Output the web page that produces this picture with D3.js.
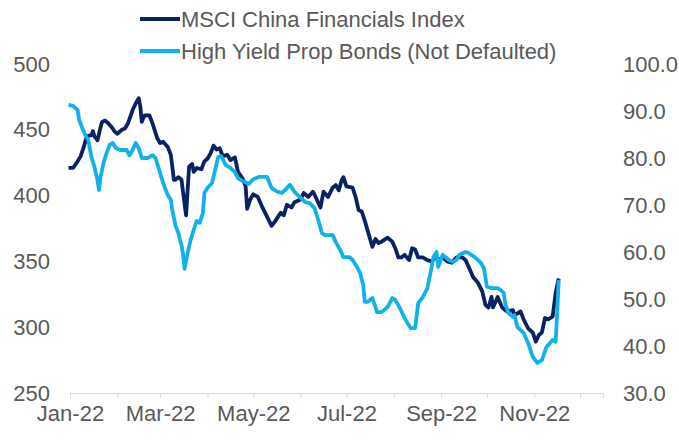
<!DOCTYPE html>
<html>
<head>
<meta charset="utf-8">
<script src="https://cdn.jsdelivr.net/npm/d3@7"></script>
<style>
  html, body { margin: 0; padding: 0; background: #ffffff; }
  svg { display: block; }
  text { font-family: "Liberation Sans", Arial, sans-serif; }
</style>
</head>
<body>
<svg id="chart" width="679" height="440"></svg>
<script>
// MSCI China Financials Index (left axis)
const msciSeries = [
  ["2021-12-31",421],["2022-01-03",421],["2022-01-06",426],["2022-01-08",430],["2022-01-10",437],
  ["2022-01-12",445],["2022-01-15",446],["2022-01-16",449],["2022-01-17",445],["2022-01-19",442],
  ["2022-01-21",452],["2022-01-22",456],["2022-01-24",457],["2022-01-26",455],["2022-01-29",451],
  ["2022-01-30",449],["2022-02-01",447],["2022-02-04",450],["2022-02-06",451],["2022-02-08",455],
  ["2022-02-11",465],["2022-02-13",470],["2022-02-15",474],["2022-02-16",468],["2022-02-17",456],
  ["2022-02-18",459],["2022-02-19",461],["2022-02-22",461],["2022-02-24",455],["2022-02-27",444],
  ["2022-03-01",440],["2022-03-03",441],["2022-03-06",437],["2022-03-08",431],["2022-03-09",422],
  ["2022-03-10",412],["2022-03-11",412],["2022-03-13",414],["2022-03-15",412],["2022-03-16",403],
  ["2022-03-18",385],["2022-03-19",404],["2022-03-20",422],["2022-03-22",424],["2022-03-23",418],
  ["2022-03-25",421],["2022-03-28",420],["2022-03-30",426],["2022-04-01",428],["2022-04-03",432],
  ["2022-04-05",438],["2022-04-07",435],["2022-04-09",436],["2022-04-11",430],["2022-04-14",431],
  ["2022-04-16",427],["2022-04-19",429],["2022-04-21",418],["2022-04-24",413],["2022-04-26",407],
  ["2022-04-27",390],["2022-04-29",397],["2022-05-01",401],["2022-05-04",399],["2022-05-07",391],
  ["2022-05-10",384],["2022-05-13",377],["2022-05-15",380],["2022-05-19",387],["2022-05-21",385],
  ["2022-05-23",393],["2022-05-26",391],["2022-05-28",395],["2022-06-01",397],["2022-06-03",402],
  ["2022-06-06",399],["2022-06-09",403],["2022-06-10",401],["2022-06-14",391],["2022-06-16",403],
  ["2022-06-19",399],["2022-06-22",406],["2022-06-24",408],["2022-06-26",404],["2022-06-28",412],
  ["2022-06-29",414],["2022-07-01",407],["2022-07-05",406],["2022-07-07",399],["2022-07-09",389],
  ["2022-07-11",388],["2022-07-13",381],["2022-07-15",373],["2022-07-18",361],["2022-07-20",367],
  ["2022-07-22",364],["2022-07-24",365],["2022-07-28",368],["2022-07-31",365],["2022-08-02",360],
  ["2022-08-04",353],["2022-08-06",353],["2022-08-08",355],["2022-08-11",351],["2022-08-13",360],
  ["2022-08-15",359],["2022-08-17",353],["2022-08-20",353],["2022-08-23",351],["2022-08-26",350],
  ["2022-08-28",353],["2022-08-30",351],["2022-09-02",353],["2022-09-05",350],["2022-09-08",349],
  ["2022-09-11",353],["2022-09-15",353],["2022-09-17",351],["2022-09-19",346],["2022-09-22",338],
  ["2022-09-25",334],["2022-09-28",327],["2022-09-30",317],["2022-10-02",315],["2022-10-04",323],
  ["2022-10-05",315],["2022-10-08",323],["2022-10-11",315],["2022-10-14",312],["2022-10-18",313],
  ["2022-10-19",309],["2022-10-23",312],["2022-10-25",306],["2022-10-28",299],["2022-10-31",296],
  ["2022-11-02",289],["2022-11-04",294],["2022-11-06",296],["2022-11-08",307],["2022-11-10",306],
  ["2022-11-13",308],["2022-11-15",326],["2022-11-17",337]
];

// High Yield Prop Bonds, not defaulted (right axis)
const bondSeries = [
  ["2021-12-31",91.3],["2022-01-03",91.1],["2022-01-06",90.2],["2022-01-07",88.1],["2022-01-09",86.4],
  ["2022-01-11",84.9],["2022-01-13",83.8],["2022-01-15",80.2],["2022-01-17",78.1],["2022-01-19",75.3],
  ["2022-01-20",73.2],["2022-01-21",76.0],["2022-01-23",79.0],["2022-01-25",81.1],["2022-01-27",82.8],
  ["2022-01-29",83.2],["2022-01-31",82.1],["2022-02-03",81.7],["2022-02-07",81.7],["2022-02-09",80.6],
  ["2022-02-11",81.7],["2022-02-13",83.2],["2022-02-15",82.1],["2022-02-17",80.0],["2022-02-21",80.0],
  ["2022-02-24",80.6],["2022-02-26",80.0],["2022-02-28",77.9],["2022-03-02",75.7],["2022-03-04",73.8],
  ["2022-03-06",72.1],["2022-03-08",71.1],["2022-03-09",68.9],["2022-03-11",65.7],["2022-03-13",64.0],
  ["2022-03-14",62.6],["2022-03-15",61.5],["2022-03-16",59.6],["2022-03-17",56.4],["2022-03-19",59.8],
  ["2022-03-21",62.6],["2022-03-23",64.7],["2022-03-25",66.6],["2022-03-27",66.2],["2022-03-29",68.3],
  ["2022-03-30",72.6],["2022-04-01",73.6],["2022-04-04",74.7],["2022-04-06",77.4],["2022-04-08",80.2],
  ["2022-04-10",80.4],["2022-04-13",78.5],["2022-04-16",77.9],["2022-04-19",77.0],["2022-04-21",75.7],
  ["2022-04-24",75.1],["2022-04-28",74.5],["2022-05-01",75.5],["2022-05-05",76.0],["2022-05-10",76.0],
  ["2022-05-13",73.6],["2022-05-17",72.8],["2022-05-20",72.6],["2022-05-23",73.6],["2022-05-25",74.3],
  ["2022-05-28",72.8],["2022-06-01",71.5],["2022-06-04",70.6],["2022-06-07",70.4],["2022-06-10",69.4],
  ["2022-06-12",67.4],["2022-06-15",64.0],["2022-06-17",63.6],["2022-06-22",63.6],["2022-06-24",62.1],
  ["2022-06-27",60.4],["2022-06-29",58.9],["2022-07-03",58.9],["2022-07-05",58.3],["2022-07-08",56.8],
  ["2022-07-10",55.5],["2022-07-12",53.0],["2022-07-13",49.4],["2022-07-15",49.4],["2022-07-18",50.2],
  ["2022-07-20",48.3],["2022-07-21",47.2],["2022-07-24",47.2],["2022-07-28",48.3],["2022-07-31",50.2],
  ["2022-08-02",49.8],["2022-08-05",48.1],["2022-08-08",46.0],["2022-08-12",43.8],["2022-08-15",43.8],
  ["2022-08-17",49.1],["2022-08-20",50.4],["2022-08-23",52.3],["2022-08-25",55.5],["2022-08-27",58.9],
  ["2022-08-29",60.0],["2022-08-30",56.8],["2022-09-02",59.4],["2022-09-04",58.9],["2022-09-06",58.3],
  ["2022-09-09",57.9],["2022-09-11",58.3],["2022-09-13",59.4],["2022-09-17",60.0],["2022-09-19",59.8],
  ["2022-09-23",58.9],["2022-09-27",57.7],["2022-09-29",56.6],["2022-10-01",52.6],["2022-10-04",52.3],
  ["2022-10-08",52.3],["2022-10-10",51.9],["2022-10-12",51.3],["2022-10-13",49.1],["2022-10-15",47.0],
  ["2022-10-18",46.2],["2022-10-19",46.6],["2022-10-21",44.0],["2022-10-25",42.8],["2022-10-28",40.6],
  ["2022-10-31",37.7],["2022-11-03",36.4],["2022-11-06",37.0],["2022-11-09",39.8],["2022-11-13",41.3],
  ["2022-11-15",40.9],["2022-11-16",47.0],["2022-11-17",54.0]
];

const seriesNames = ["MSCI China Financials Index", "High Yield Prop Bonds (Not Defaulted)"];
const seriesColors = ["#0a2263", "#12b1ec"];
const leftTicks = [250, 300, 350, 400, 450, 500];
const rightTicks = [30, 40, 50, 60, 70, 80, 90, 100];
const labelMonths = ["Jan-22", "Mar-22", "May-22", "Jul-22", "Sep-22", "Nov-22"];

const svg = d3.select("#chart");
const parse = d3.timeParse("%Y-%m-%d");
const fmtMonth = d3.timeFormat("%b-%y");
const textColor = "#595959";

const plot = { left: 70, right: 603, top: 64, bottom: 393 };

const x = d3.scaleTime()
  .domain([new Date(2022, 0, 1), new Date(2022, 11, 16)])
  .range([plot.left, plot.right]);
const yLeft = d3.scaleLinear().domain([250, 500]).range([plot.bottom, plot.top]);
const yRight = d3.scaleLinear().domain([30, 100]).range([plot.bottom, plot.top]);

// Bottom date axis: a tick every month, labels every other month
const monthStarts = d3.timeMonth.range(new Date(2022, 0, 1), new Date(2022, 11, 2));
const xAxis = d3.axisBottom(x)
  .tickValues(monthStarts)
  .tickSize(5)
  .tickPadding(7)
  .tickFormat(d => labelMonths.includes(fmtMonth(d)) ? fmtMonth(d) : "");
const gx = svg.append("g").attr("transform", `translate(0,${plot.bottom})`).call(xAxis);
gx.select(".domain").attr("stroke", "#d9d9d9").attr("stroke-width", 1);
gx.selectAll(".tick line").attr("stroke", "#d9d9d9");
gx.selectAll(".tick text").attr("fill", textColor).style("font-size", "22px");

// Left value axis
const gl = svg.append("g").attr("transform", `translate(${plot.left},0)`)
  .call(d3.axisLeft(yLeft).tickValues(leftTicks).tickSize(0).tickPadding(20).tickFormat(d3.format("d")));
gl.select(".domain").remove();
gl.selectAll(".tick text").attr("fill", textColor).style("font-size", "22px");

// Right value axis
const gr = svg.append("g").attr("transform", `translate(${plot.right},0)`)
  .call(d3.axisRight(yRight).tickValues(rightTicks).tickSize(0).tickPadding(20).tickFormat(d3.format(".1f")));
gr.select(".domain").remove();
gr.selectAll(".tick text").attr("fill", textColor).style("font-size", "22px");

// Series lines
const lineLeft = d3.line().x(d => x(parse(d[0]))).y(d => yLeft(d[1]));
const lineRight = d3.line().x(d => x(parse(d[0]))).y(d => yRight(d[1]));

svg.append("path")
  .datum(msciSeries)
  .attr("d", lineLeft)
  .attr("fill", "none")
  .attr("stroke", seriesColors[0])
  .attr("stroke-width", 3.8)
  .attr("stroke-linejoin", "round");

svg.append("path")
  .datum(bondSeries)
  .attr("d", lineRight)
  .attr("fill", "none")
  .attr("stroke", seriesColors[1])
  .attr("stroke-width", 3.8)
  .attr("stroke-linejoin", "round");

// Legend
const legend = svg.append("g").attr("transform", "translate(140,0)");
seriesNames.forEach((name, i) => {
  const cy = 19 + i * 32;
  legend.append("line")
    .attr("x1", 0).attr("x2", 40).attr("y1", cy).attr("y2", cy)
    .attr("stroke", seriesColors[i]).attr("stroke-width", 4);
  legend.append("text")
    .attr("x", 41).attr("y", cy + 8)
    .attr("fill", textColor)
    .style("font-size", "22px")
    .text(name);
});
</script>
</body>
</html>
